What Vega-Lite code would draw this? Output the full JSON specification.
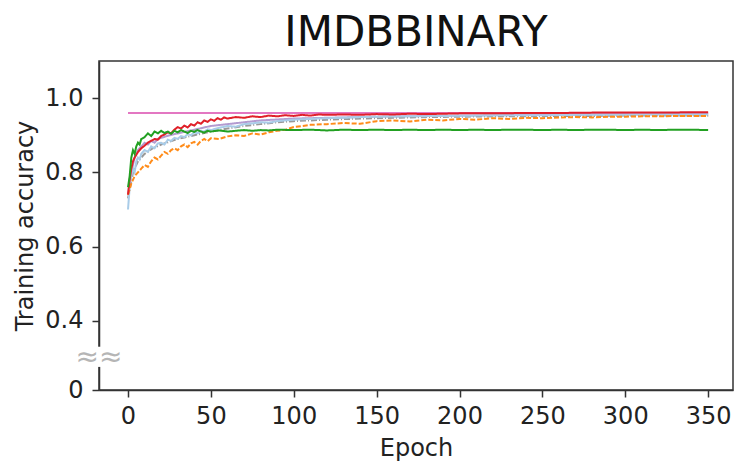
{
  "$schema": "https://vega.github.io/schema/vega-lite/v6.json",
  "autosize": "none",
  "width": 634,
  "height": 329,
  "padding": {"left": 99, "top": 61, "right": 3, "bottom": 72},
  "background": "white",
  "title": {"text": "IMDBBINARY", "font": "DejaVu Sans", "fontSize": 42, "fontWeight": "normal", "color": "#111", "anchor": "middle", "offset": 6},
  "config": {
    "view": {"stroke": "#333", "strokeWidth": 1.5},
    "axis": {"domainColor": "#333", "domainWidth": 1.5, "tickColor": "#333", "tickWidth": 1.5, "tickSize": 7, "grid": false, "labelFont": "DejaVu Sans", "labelFontSize": 24, "labelColor": "#222", "titleFont": "DejaVu Sans", "titleFontSize": 24, "titleFontWeight": "normal", "titleColor": "#222"}
  },
  "datasets": {
    "series": [
      {"e": 0, "v": 0.96, "s": "pink"}, {"e": 350, "v": 0.96, "s": "pink"},
      {"e": 0, "v": 0.74, "s": "purple"}, {"e": 2, "v": 0.8, "s": "purple"}, {"e": 4, "v": 0.84, "s": "purple"}, {"e": 6, "v": 0.86, "s": "purple"}, {"e": 8, "v": 0.87, "s": "purple"}, {"e": 10, "v": 0.88, "s": "purple"}, {"e": 12, "v": 0.875, "s": "purple"}, {"e": 14, "v": 0.885, "s": "purple"}, {"e": 16, "v": 0.88, "s": "purple"}, {"e": 18, "v": 0.89, "s": "purple"}, {"e": 20, "v": 0.893, "s": "purple"}, {"e": 25, "v": 0.9, "s": "purple"}, {"e": 30, "v": 0.905, "s": "purple"}, {"e": 40, "v": 0.915, "s": "purple"}, {"e": 50, "v": 0.925, "s": "purple"}, {"e": 60, "v": 0.93, "s": "purple"}, {"e": 80, "v": 0.94, "s": "purple"}, {"e": 100, "v": 0.945, "s": "purple"}, {"e": 150, "v": 0.95, "s": "purple"}, {"e": 200, "v": 0.953, "s": "purple"}, {"e": 250, "v": 0.955, "s": "purple"}, {"e": 300, "v": 0.956, "s": "purple"}, {"e": 350, "v": 0.957, "s": "purple"},
      {"e": 0, "v": 0.73, "s": "gray"}, {"e": 3, "v": 0.8, "s": "gray"}, {"e": 6, "v": 0.83, "s": "gray"}, {"e": 10, "v": 0.85, "s": "gray"}, {"e": 15, "v": 0.865, "s": "gray"}, {"e": 20, "v": 0.875, "s": "gray"}, {"e": 30, "v": 0.89, "s": "gray"}, {"e": 40, "v": 0.9, "s": "gray"}, {"e": 50, "v": 0.91, "s": "gray"}, {"e": 60, "v": 0.918, "s": "gray"}, {"e": 70, "v": 0.925, "s": "gray"}, {"e": 80, "v": 0.93, "s": "gray"}, {"e": 90, "v": 0.935, "s": "gray"}, {"e": 100, "v": 0.938, "s": "gray"}, {"e": 120, "v": 0.942, "s": "gray"}, {"e": 140, "v": 0.945, "s": "gray"}, {"e": 160, "v": 0.947, "s": "gray"}, {"e": 180, "v": 0.949, "s": "gray"}, {"e": 200, "v": 0.95, "s": "gray"}, {"e": 220, "v": 0.951, "s": "gray"}, {"e": 240, "v": 0.951, "s": "gray"}, {"e": 260, "v": 0.952, "s": "gray"}, {"e": 280, "v": 0.952, "s": "gray"}, {"e": 300, "v": 0.953, "s": "gray"}, {"e": 320, "v": 0.953, "s": "gray"}, {"e": 340, "v": 0.953, "s": "gray"}, {"e": 350, "v": 0.953, "s": "gray"},
      {"e": 0, "v": 0.7, "s": "lightblue"}, {"e": 1, "v": 0.76, "s": "lightblue"}, {"e": 2, "v": 0.79, "s": "lightblue"}, {"e": 3, "v": 0.81, "s": "lightblue"}, {"e": 4, "v": 0.8, "s": "lightblue"}, {"e": 5, "v": 0.83, "s": "lightblue"}, {"e": 6, "v": 0.84, "s": "lightblue"}, {"e": 7, "v": 0.835, "s": "lightblue"}, {"e": 8, "v": 0.85, "s": "lightblue"}, {"e": 10, "v": 0.86, "s": "lightblue"}, {"e": 12, "v": 0.855, "s": "lightblue"}, {"e": 14, "v": 0.87, "s": "lightblue"}, {"e": 16, "v": 0.865, "s": "lightblue"}, {"e": 18, "v": 0.878, "s": "lightblue"}, {"e": 20, "v": 0.88, "s": "lightblue"}, {"e": 22, "v": 0.875, "s": "lightblue"}, {"e": 24, "v": 0.888, "s": "lightblue"}, {"e": 26, "v": 0.885, "s": "lightblue"}, {"e": 28, "v": 0.893, "s": "lightblue"}, {"e": 30, "v": 0.89, "s": "lightblue"}, {"e": 32, "v": 0.898, "s": "lightblue"}, {"e": 34, "v": 0.895, "s": "lightblue"}, {"e": 36, "v": 0.903, "s": "lightblue"}, {"e": 38, "v": 0.9, "s": "lightblue"}, {"e": 40, "v": 0.908, "s": "lightblue"}, {"e": 42, "v": 0.905, "s": "lightblue"}, {"e": 44, "v": 0.912, "s": "lightblue"}, {"e": 46, "v": 0.91, "s": "lightblue"}, {"e": 48, "v": 0.916, "s": "lightblue"}, {"e": 50, "v": 0.914, "s": "lightblue"}, {"e": 55, "v": 0.92, "s": "lightblue"}, {"e": 60, "v": 0.925, "s": "lightblue"}, {"e": 65, "v": 0.923, "s": "lightblue"}, {"e": 70, "v": 0.93, "s": "lightblue"}, {"e": 75, "v": 0.932, "s": "lightblue"}, {"e": 80, "v": 0.935, "s": "lightblue"}, {"e": 85, "v": 0.934, "s": "lightblue"}, {"e": 90, "v": 0.938, "s": "lightblue"}, {"e": 95, "v": 0.94, "s": "lightblue"}, {"e": 100, "v": 0.942, "s": "lightblue"}, {"e": 110, "v": 0.944, "s": "lightblue"}, {"e": 120, "v": 0.946, "s": "lightblue"}, {"e": 130, "v": 0.947, "s": "lightblue"}, {"e": 140, "v": 0.949, "s": "lightblue"}, {"e": 150, "v": 0.95, "s": "lightblue"}, {"e": 170, "v": 0.951, "s": "lightblue"}, {"e": 190, "v": 0.952, "s": "lightblue"}, {"e": 210, "v": 0.953, "s": "lightblue"}, {"e": 230, "v": 0.954, "s": "lightblue"}, {"e": 250, "v": 0.954, "s": "lightblue"}, {"e": 270, "v": 0.955, "s": "lightblue"}, {"e": 290, "v": 0.955, "s": "lightblue"}, {"e": 310, "v": 0.956, "s": "lightblue"}, {"e": 330, "v": 0.956, "s": "lightblue"}, {"e": 350, "v": 0.956, "s": "lightblue"},
      {"e": 0, "v": 0.74, "s": "orange"}, {"e": 2, "v": 0.77, "s": "orange"}, {"e": 4, "v": 0.79, "s": "orange"}, {"e": 6, "v": 0.8, "s": "orange"}, {"e": 8, "v": 0.81, "s": "orange"}, {"e": 10, "v": 0.82, "s": "orange"}, {"e": 12, "v": 0.815, "s": "orange"}, {"e": 14, "v": 0.83, "s": "orange"}, {"e": 16, "v": 0.84, "s": "orange"}, {"e": 18, "v": 0.835, "s": "orange"}, {"e": 20, "v": 0.845, "s": "orange"}, {"e": 22, "v": 0.855, "s": "orange"}, {"e": 24, "v": 0.85, "s": "orange"}, {"e": 26, "v": 0.86, "s": "orange"}, {"e": 28, "v": 0.865, "s": "orange"}, {"e": 30, "v": 0.86, "s": "orange"}, {"e": 32, "v": 0.87, "s": "orange"}, {"e": 34, "v": 0.875, "s": "orange"}, {"e": 36, "v": 0.868, "s": "orange"}, {"e": 38, "v": 0.878, "s": "orange"}, {"e": 40, "v": 0.882, "s": "orange"}, {"e": 42, "v": 0.875, "s": "orange"}, {"e": 44, "v": 0.885, "s": "orange"}, {"e": 46, "v": 0.89, "s": "orange"}, {"e": 48, "v": 0.884, "s": "orange"}, {"e": 50, "v": 0.892, "s": "orange"}, {"e": 55, "v": 0.89, "s": "orange"}, {"e": 60, "v": 0.897, "s": "orange"}, {"e": 65, "v": 0.9, "s": "orange"}, {"e": 70, "v": 0.898, "s": "orange"}, {"e": 75, "v": 0.905, "s": "orange"}, {"e": 80, "v": 0.902, "s": "orange"}, {"e": 85, "v": 0.908, "s": "orange"}, {"e": 90, "v": 0.912, "s": "orange"}, {"e": 95, "v": 0.915, "s": "orange"}, {"e": 100, "v": 0.922, "s": "orange"}, {"e": 110, "v": 0.928, "s": "orange"}, {"e": 120, "v": 0.93, "s": "orange"}, {"e": 130, "v": 0.933, "s": "orange"}, {"e": 140, "v": 0.931, "s": "orange"}, {"e": 150, "v": 0.938, "s": "orange"}, {"e": 160, "v": 0.94, "s": "orange"}, {"e": 170, "v": 0.937, "s": "orange"}, {"e": 180, "v": 0.942, "s": "orange"}, {"e": 190, "v": 0.94, "s": "orange"}, {"e": 200, "v": 0.944, "s": "orange"}, {"e": 210, "v": 0.942, "s": "orange"}, {"e": 220, "v": 0.946, "s": "orange"}, {"e": 230, "v": 0.944, "s": "orange"}, {"e": 240, "v": 0.947, "s": "orange"}, {"e": 250, "v": 0.946, "s": "orange"}, {"e": 260, "v": 0.948, "s": "orange"}, {"e": 270, "v": 0.949, "s": "orange"}, {"e": 280, "v": 0.948, "s": "orange"}, {"e": 290, "v": 0.95, "s": "orange"}, {"e": 300, "v": 0.95, "s": "orange"}, {"e": 310, "v": 0.951, "s": "orange"}, {"e": 320, "v": 0.951, "s": "orange"}, {"e": 330, "v": 0.952, "s": "orange"}, {"e": 340, "v": 0.952, "s": "orange"}, {"e": 350, "v": 0.952, "s": "orange"},
      {"e": 0, "v": 0.74, "s": "red"}, {"e": 1, "v": 0.78, "s": "red"}, {"e": 2, "v": 0.81, "s": "red"}, {"e": 3, "v": 0.83, "s": "red"}, {"e": 4, "v": 0.84, "s": "red"}, {"e": 6, "v": 0.855, "s": "red"}, {"e": 8, "v": 0.865, "s": "red"}, {"e": 10, "v": 0.872, "s": "red"}, {"e": 12, "v": 0.88, "s": "red"}, {"e": 14, "v": 0.885, "s": "red"}, {"e": 16, "v": 0.89, "s": "red"}, {"e": 18, "v": 0.888, "s": "red"}, {"e": 20, "v": 0.898, "s": "red"}, {"e": 22, "v": 0.902, "s": "red"}, {"e": 24, "v": 0.908, "s": "red"}, {"e": 26, "v": 0.905, "s": "red"}, {"e": 28, "v": 0.915, "s": "red"}, {"e": 30, "v": 0.922, "s": "red"}, {"e": 32, "v": 0.918, "s": "red"}, {"e": 34, "v": 0.926, "s": "red"}, {"e": 36, "v": 0.921, "s": "red"}, {"e": 38, "v": 0.93, "s": "red"}, {"e": 40, "v": 0.926, "s": "red"}, {"e": 42, "v": 0.935, "s": "red"}, {"e": 44, "v": 0.931, "s": "red"}, {"e": 46, "v": 0.94, "s": "red"}, {"e": 48, "v": 0.936, "s": "red"}, {"e": 50, "v": 0.943, "s": "red"}, {"e": 52, "v": 0.939, "s": "red"}, {"e": 54, "v": 0.946, "s": "red"}, {"e": 56, "v": 0.942, "s": "red"}, {"e": 58, "v": 0.948, "s": "red"}, {"e": 60, "v": 0.945, "s": "red"}, {"e": 65, "v": 0.949, "s": "red"}, {"e": 70, "v": 0.947, "s": "red"}, {"e": 75, "v": 0.951, "s": "red"}, {"e": 80, "v": 0.949, "s": "red"}, {"e": 85, "v": 0.953, "s": "red"}, {"e": 90, "v": 0.951, "s": "red"}, {"e": 95, "v": 0.954, "s": "red"}, {"e": 100, "v": 0.952, "s": "red"}, {"e": 105, "v": 0.955, "s": "red"}, {"e": 110, "v": 0.953, "s": "red"}, {"e": 115, "v": 0.956, "s": "red"}, {"e": 120, "v": 0.955, "s": "red"}, {"e": 130, "v": 0.956, "s": "red"}, {"e": 140, "v": 0.955, "s": "red"}, {"e": 150, "v": 0.957, "s": "red"}, {"e": 160, "v": 0.956, "s": "red"}, {"e": 170, "v": 0.958, "s": "red"}, {"e": 180, "v": 0.957, "s": "red"}, {"e": 190, "v": 0.958, "s": "red"}, {"e": 200, "v": 0.959, "s": "red"}, {"e": 220, "v": 0.959, "s": "red"}, {"e": 240, "v": 0.96, "s": "red"}, {"e": 260, "v": 0.96, "s": "red"}, {"e": 280, "v": 0.961, "s": "red"}, {"e": 300, "v": 0.961, "s": "red"}, {"e": 320, "v": 0.961, "s": "red"}, {"e": 340, "v": 0.962, "s": "red"}, {"e": 350, "v": 0.962, "s": "red"},
      {"e": 0, "v": 0.76, "s": "green"}, {"e": 1, "v": 0.79, "s": "green"}, {"e": 2, "v": 0.84, "s": "green"}, {"e": 3, "v": 0.86, "s": "green"}, {"e": 4, "v": 0.85, "s": "green"}, {"e": 5, "v": 0.87, "s": "green"}, {"e": 6, "v": 0.88, "s": "green"}, {"e": 7, "v": 0.875, "s": "green"}, {"e": 8, "v": 0.89, "s": "green"}, {"e": 10, "v": 0.895, "s": "green"}, {"e": 12, "v": 0.905, "s": "green"}, {"e": 14, "v": 0.898, "s": "green"}, {"e": 16, "v": 0.91, "s": "green"}, {"e": 18, "v": 0.905, "s": "green"}, {"e": 20, "v": 0.912, "s": "green"}, {"e": 22, "v": 0.906, "s": "green"}, {"e": 24, "v": 0.91, "s": "green"}, {"e": 26, "v": 0.904, "s": "green"}, {"e": 28, "v": 0.912, "s": "green"}, {"e": 30, "v": 0.908, "s": "green"}, {"e": 32, "v": 0.914, "s": "green"}, {"e": 34, "v": 0.91, "s": "green"}, {"e": 36, "v": 0.906, "s": "green"}, {"e": 38, "v": 0.912, "s": "green"}, {"e": 40, "v": 0.909, "s": "green"}, {"e": 42, "v": 0.914, "s": "green"}, {"e": 44, "v": 0.91, "s": "green"}, {"e": 46, "v": 0.907, "s": "green"}, {"e": 48, "v": 0.912, "s": "green"}, {"e": 50, "v": 0.91, "s": "green"}, {"e": 55, "v": 0.913, "s": "green"}, {"e": 60, "v": 0.91, "s": "green"}, {"e": 65, "v": 0.912, "s": "green"}, {"e": 70, "v": 0.914, "s": "green"}, {"e": 75, "v": 0.912, "s": "green"}, {"e": 80, "v": 0.914, "s": "green"}, {"e": 85, "v": 0.913, "s": "green"}, {"e": 90, "v": 0.915, "s": "green"}, {"e": 100, "v": 0.914, "s": "green"}, {"e": 110, "v": 0.915, "s": "green"}, {"e": 120, "v": 0.913, "s": "green"}, {"e": 130, "v": 0.915, "s": "green"}, {"e": 140, "v": 0.914, "s": "green"}, {"e": 150, "v": 0.915, "s": "green"}, {"e": 160, "v": 0.914, "s": "green"}, {"e": 170, "v": 0.915, "s": "green"}, {"e": 180, "v": 0.914, "s": "green"}, {"e": 190, "v": 0.915, "s": "green"}, {"e": 200, "v": 0.914, "s": "green"}, {"e": 210, "v": 0.915, "s": "green"}, {"e": 220, "v": 0.914, "s": "green"}, {"e": 230, "v": 0.915, "s": "green"}, {"e": 240, "v": 0.915, "s": "green"}, {"e": 250, "v": 0.914, "s": "green"}, {"e": 260, "v": 0.915, "s": "green"}, {"e": 270, "v": 0.914, "s": "green"}, {"e": 280, "v": 0.915, "s": "green"}, {"e": 290, "v": 0.915, "s": "green"}, {"e": 300, "v": 0.914, "s": "green"}, {"e": 310, "v": 0.915, "s": "green"}, {"e": 320, "v": 0.914, "s": "green"}, {"e": 330, "v": 0.915, "s": "green"}, {"e": 340, "v": 0.915, "s": "green"}, {"e": 350, "v": 0.914, "s": "green"}
    ],
    "gap": [{"x1": -19, "x2": -16, "y1": 0.16, "y2": 0.3}],
    "brk": [{"e": -17.5, "v": 0.225, "t": "≈≈"}]
  },
  "layer": [
    {
      "data": {"name": "series"},
      "mark": {"type": "line", "strokeWidth": 2, "clip": true},
      "encoding": {
        "x": {"field": "e", "type": "quantitative", "scale": {"domain": [-17.5, 365], "nice": false, "zero": false},
              "axis": {"values": [0, 50, 100, 150, 200, 250, 300, 350], "title": "Epoch", "labelPadding": 7, "titlePadding": 8}},
        "y": {"field": "v", "type": "quantitative", "scale": {"domain": [0, 0.35, 1.1], "range": [329, 278.5, 0], "nice": false, "zero": false},
              "axis": {"values": [0, 0.4, 0.6, 0.8, 1.0], "labelExpr": "datum.value == 0 ? '0' : format(datum.value, '.1f')", "title": "Training accuracy", "labelPadding": 9, "titlePadding": 7}},
        "color": {"field": "s", "type": "nominal", "legend": null,
                  "scale": {"domain": ["pink", "purple", "gray", "lightblue", "orange", "red", "green"], "range": ["#e377c2", "#b39bd0", "#999999", "#a9cce8", "#ff8c1a", "#e0202a", "#22a022"]}},
        "strokeDash": {"field": "s", "type": "nominal", "legend": null,
                  "scale": {"domain": ["pink", "purple", "gray", "lightblue", "orange", "red", "green"], "range": [[1, 0], [1, 0], [6, 2, 1, 2], [1, 0], [5, 2], [1, 0], [1, 0]]}}
      }
    },
    {
      "data": {"name": "gap"},
      "mark": {"type": "rect", "color": "white", "clip": false},
      "encoding": {
        "x": {"field": "x1", "type": "quantitative"},
        "x2": {"field": "x2"},
        "y": {"field": "y1", "type": "quantitative"},
        "y2": {"field": "y2"}
      }
    },
    {
      "data": {"name": "brk"},
      "mark": {"type": "text", "font": "DejaVu Sans", "fontSize": 28, "color": "#b5b5b5", "align": "center", "baseline": "middle", "clip": false},
      "encoding": {
        "x": {"field": "e", "type": "quantitative"},
        "y": {"field": "v", "type": "quantitative"},
        "text": {"field": "t"}
      }
    }
  ]
}
